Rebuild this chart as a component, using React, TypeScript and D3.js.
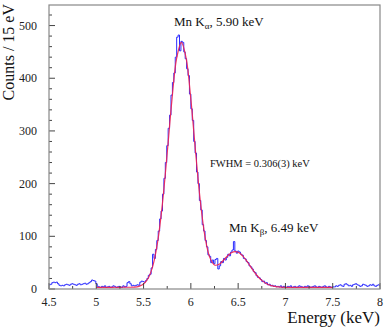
import React from "react";
import * as d3 from "d3";

// histogram, 15 eV bins starting at 4.5 keV
const binStart = 4.5;
const binWidth = 0.015;
const countsLow = [8, 9, 12, 13, 12, 13, 10, 7, 6, 7, 6, 8, 9, 8, 7, 9, 10, 9, 8, 7, 9, 10, 8, 9, 10, 11, 9, 10, 12, 14, 17, 16, 15, 10];
const countsMid = [5, 4, 3, 5, 4, 6, 3, 4, 5, 3, 4, 6, 5, 3, 4, 5, 4, 3, 6, 4, 5, 12, 14, 10, 6, 7, 6, 7, 8, 7, 13, 15, 14];
const countsPeaks = [
  13, 16, 20, 26, 28, 40, 66, 58, 75, 92,
  110, 133, 148, 180, 210, 240, 272, 305, 330, 368,
  392, 410, 440, 478, 482, 452, 470, 468, 450, 437,
  418, 405, 370, 342, 320, 280, 258, 222, 200, 168,
  150, 122, 110, 92, 80, 65, 62, 50, 55, 48,
  56, 58, 38, 44, 52, 50, 58, 55, 60, 66,
  63, 70, 74, 90, 72, 68, 72, 70, 66, 64,
  58, 57, 52, 50, 44, 42, 38, 33, 31, 25,
  22, 21, 18, 14, 15, 11, 12, 8, 9, 6,
  7, 5, 6, 4, 5, 4, 6, 3, 5, 4,
];
const countsHigh = [
  3, 5, 4, 6, 3, 4, 5, 3, 4, 6, 5, 4, 3, 5, 4, 6, 5, 3, 4, 5, 6, 4, 3, 5, 4, 3, 5, 6, 4, 3, 5, 4, 3, 4,
  4, 6, 5, 7, 8, 6, 5, 9, 10, 8, 6, 7, 5, 8, 9, 10, 8, 7, 5, 6, 9, 8, 7, 5, 6, 8, 7, 9, 6, 5, 7, 8, 6,
];
const counts = [...countsLow, ...countsMid, ...countsPeaks, ...countsHigh];

// fit curve, sampled every 50 eV from 5.0 to 7.5 keV
const fitStart = 5.0;
const fitStep = 0.05;
const fitValues = [
  3, 3.1, 3.2, 3.1, 3.3, 3.2, 3.4, 3.3,
  3.6, 5.1, 9.6, 20.8, 45.3, 91, 163, 258, 359, 438,
  468, 438, 360, 260, 167, 99, 60, 45.6, 46.9, 55.5,
  65, 70.4, 69.7, 62.5, 50.8, 37.6, 25.6, 16.3, 10.1, 6.4,
  4.5, 3.6, 3.2,
  3, 3.1, 2.9, 3, 3.2, 3, 2.9, 3.1, 3, 3,
];

const xTicks = [4.5, 5, 5.5, 6, 6.5, 7, 7.5, 8];
const yTicks = [0, 100, 200, 300, 400, 500];

const W = 385;
const H = 329;
const margin = { left: 49, right: 5, top: 5, bottom: 40 };
const font = "'Liberation Serif', 'Times New Roman', serif";

export default function App() {
  const x = d3.scaleLinear().domain([4.5, 8]).range([margin.left, W - margin.right]);
  const y = d3.scaleLinear().domain([0, 539]).range([H - margin.bottom, margin.top]);

  const histPts: [number, number][] = counts.map((c, i) => [binStart + i * binWidth, c]);
  histPts.push([binStart + counts.length * binWidth, counts[counts.length - 1]]);
  const histLine = d3
    .line<[number, number]>()
    .x((d) => x(d[0]))
    .y((d) => y(d[1]))
    .curve(d3.curveStepAfter);

  const fitPts: [number, number][] = fitValues.map((v, i) => [fitStart + i * fitStep, v]);
  const fitLine = d3
    .line<[number, number]>()
    .x((d) => x(d[0]))
    .y((d) => y(d[1]))
    .curve(d3.curveCatmullRom);

  const xMinor = d3.range(4.5, 8.001, 0.25);
  const yMinor = d3.range(0, 539, 20);
  const x0 = margin.left;
  const x1 = W - margin.right;
  const y0 = H - margin.bottom;
  const y1 = margin.top;

  return (
    <svg width={W} height={H} style={{ position: "absolute", left: 0, top: 0 }} fontFamily={font}>
      <defs>
        <clipPath id="plot">
          <rect x={x0} y={y1} width={x1 - x0} height={y0 - y1} />
        </clipPath>
      </defs>
      <rect x={0} y={0} width={W} height={H} fill="#fff" />
      <g clipPath="url(#plot)">
        <path d={histLine(histPts) ?? ""} fill="none" stroke="#2b2bff" strokeWidth={1} />
        <path d={fitLine(fitPts) ?? ""} fill="none" stroke="#ee2050" strokeWidth={1.2} opacity={0.9} />
      </g>
      {xMinor.map((t) => (
        <line key={"xm" + t} x1={x(t)} x2={x(t)} y1={y0} y2={y0 - (Math.abs(t * 2 - Math.round(t * 2)) < 1e-6 ? 6 : 3)} stroke="#444" />
      ))}
      {yMinor.map((t) => (
        <line key={"ym" + t} x1={x0} x2={x0 + (t % 100 === 0 ? 6 : 3)} y1={y(t)} y2={y(t)} stroke="#444" />
      ))}
      <rect x={x0} y={y1} width={x1 - x0} height={y0 - y1} fill="none" stroke="#888" strokeWidth={1.2} />
      {xTicks.map((t) => (
        <text key={"xt" + t} x={x(t)} y={306} textAnchor="middle" fontSize={12} fill="#222">
          {t}
        </text>
      ))}
      {yTicks.map((t) => (
        <text key={"yt" + t} x={37} y={y(t) + 4} textAnchor="end" fontSize={12} fill="#222">
          {t}
        </text>
      ))}
      <text x={380} y={323} textAnchor="end" fontSize={17} fill="#111">
        Energy (keV)
      </text>
      <text transform="translate(14,4) rotate(-90)" textAnchor="end" fontSize={16} fill="#111">
        Counts / 15 eV
      </text>
      <text x={174} y={26} fontSize={13} fill="#111">
        Mn K<tspan dy={3} fontSize={9}>α</tspan>
        <tspan dy={-3}>, 5.90 keV</tspan>
      </text>
      <text x={210} y={167} fontSize={10.5} fill="#111">
        FWHM = 0.306(3) keV
      </text>
      <text x={229} y={232} fontSize={13} fill="#111">
        Mn K<tspan dy={3} fontSize={9}>β</tspan>
        <tspan dy={-3}>, 6.49 keV</tspan>
      </text>
    </svg>
  );
}
